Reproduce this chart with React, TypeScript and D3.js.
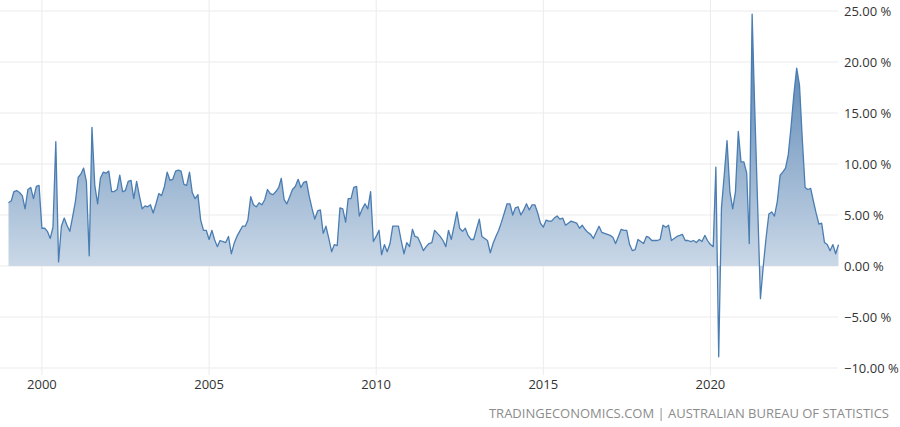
import React from 'react';
import * as d3 from 'd3';

// monthly values, % (Jan 1999 onwards)
const values1999to2003 = [
  6.2, 6.4, 7.3, 7.4, 7.2, 6.9, 5.6, 7.5, 7.7, 6.6, 7.8, 7.9,
  3.7, 3.7, 3.4, 2.7, 3.8, 12.2, 0.4, 3.9, 4.7, 4.0, 3.4, 4.8,
  6.3, 8.7, 9.0, 9.6, 8.3, 1.0, 13.6, 7.9, 6.1, 8.6, 9.2, 9.1,
  9.3, 7.3, 7.3, 7.5, 8.9, 7.3, 7.4, 8.3, 8.4, 6.6, 8.3, 6.9,
  5.6, 5.9, 5.8, 6.0, 5.2, 6.1, 7.1, 6.9, 7.8, 9.2, 8.4, 8.5,
];
const values2004to2008 = [
  9.3, 9.4, 9.3, 8.0, 7.9, 9.2, 7.2, 6.6, 7.0, 4.5, 3.5, 3.5,
  2.6, 3.5, 2.6, 1.9, 2.5, 2.4, 2.3, 2.9, 1.2, 2.2, 2.9, 3.4,
  3.9, 3.9, 4.5, 6.8, 6.0, 5.8, 6.2, 6.0, 6.5, 7.5, 7.1, 7.0,
  7.3, 7.7, 8.6, 6.5, 6.1, 6.8, 7.5, 7.8, 8.5, 7.7, 8.2, 8.3,
  6.8, 5.6, 4.6, 5.4, 5.5, 3.2, 3.9, 2.7, 1.4, 2.1, 2.0, 5.7,
];
const values2009to2013 = [
  5.6, 4.3, 6.6, 6.6, 7.7, 7.8, 4.9, 5.6, 6.1, 5.6, 7.3, 2.4,
  2.9, 3.5, 1.1, 2.1, 1.4, 2.2, 3.9, 3.9, 3.9, 2.5, 1.2, 2.3,
  1.9, 3.6, 2.9, 2.8, 2.2, 1.5, 1.9, 2.2, 2.3, 3.5, 3.2, 2.9,
  2.5, 1.9, 3.5, 2.6, 3.9, 5.3, 3.7, 3.4, 3.7, 3.0, 2.6, 2.6,
  3.6, 4.6, 2.9, 2.7, 2.5, 1.3, 2.2, 2.9, 3.5, 4.3, 5.2, 6.1,
];
const values2014to2018 = [
  6.1, 5.0, 5.7, 5.8, 5.0, 5.5, 6.1, 5.5, 6.0, 6.0, 5.2, 4.2,
  3.8, 4.5, 4.4, 4.4, 4.7, 4.9, 4.6, 4.7, 4.0, 4.2, 4.4, 4.3,
  4.2, 3.7, 4.0, 3.6, 3.3, 3.1, 2.7, 3.3, 3.9, 3.3, 3.2, 3.1,
  3.0, 2.8, 2.2, 2.9, 3.6, 3.5, 3.5, 2.1, 1.5, 1.6, 2.6, 2.4,
  2.2, 2.9, 2.8, 2.5, 2.5, 2.5, 2.6, 4.0, 3.8, 4.0, 2.5, 2.7,
];
const values2019to2023 = [
  2.9, 3.0, 3.1, 2.5, 2.5, 2.4, 2.5, 2.3, 2.6, 2.4, 3.0, 2.5,
  2.1, 1.9, 9.7, -8.9, 5.7, 9.0, 12.3, 7.3, 5.6, 7.3, 13.2, 10.2,
  10.2, 9.1, 2.2, 24.7, 15.0, 5.8, -3.2, 0.0, 2.8, 5.1, 5.3, 4.9,
  6.3, 8.9, 9.2, 9.6, 10.9, 13.7, 16.8, 19.4, 17.7, 12.5, 7.7, 7.5,
  7.6, 6.3, 5.2, 4.1, 4.2, 2.3, 2.1, 1.5, 2.1, 1.2, 2.1,
];

const yTicks = [-10, -5, 0, 5, 10, 15, 20, 25];
const xTickYears = [2000, 2005, 2010, 2015, 2020];
const sourceText = 'TRADINGECONOMICS.COM | AUSTRALIAN BUREAU OF STATISTICS';

const allValues = [
  ...values1999to2003,
  ...values2004to2008,
  ...values2009to2013,
  ...values2014to2018,
  ...values2019to2023,
];
const data = allValues.map((v, i) => ({
  date: d3.timeMonth.offset(new Date(1999, 0, 1), i),
  value: v,
}));

const width = 900;
const height = 427;
const font = '"Open Sans", "DejaVu Sans", sans-serif';

export default function App() {
  const x = d3
    .scaleTime()
    .domain([data[0].date, data[data.length - 1].date])
    .range([8.5, 838.5]);
  const y = d3.scaleLinear().domain([-10, 25]).range([368, 11]);

  const area = d3
    .area<{ date: Date; value: number }>()
    .x((d) => x(d.date))
    .y0(y(0))
    .y1((d) => y(d.value));
  const line = d3
    .line<{ date: Date; value: number }>()
    .x((d) => x(d.date))
    .y((d) => y(d.value));

  return (
    <svg
      width={width}
      height={height}
      style={{ position: 'absolute', left: 0, top: 0, background: '#fff' }}
    >
      <defs>
        <linearGradient id="fillGrad" gradientUnits="userSpaceOnUse" x1={0} x2={0} y1={y(25)} y2={y(-10)}>
          <stop offset="0%" stopColor="#4677ab" />
          <stop offset="100%" stopColor="#ffffff" />
        </linearGradient>
      </defs>

      {/* grid */}
      {yTicks.map((t) => (
        <line key={'h' + t} x1={0} x2={838} y1={y(t)} y2={y(t)} stroke="#ebebeb" strokeWidth={1} />
      ))}
      {xTickYears.map((yr) => (
        <line
          key={'v' + yr}
          x1={x(new Date(yr, 0, 1))}
          x2={x(new Date(yr, 0, 1))}
          y1={0}
          y2={375}
          stroke="#ebebeb"
          strokeWidth={1}
        />
      ))}

      <path d={area(data) ?? ''} fill="url(#fillGrad)" />
      <path d={line(data) ?? ''} fill="none" stroke="#4a7db2" strokeWidth={1.3} strokeLinejoin="round" />

      {/* y labels */}
      {yTicks.map((t) => (
        <text
          key={'yl' + t}
          x={844}
          y={y(t)}
          dy="0.35em"
          fontFamily={font}
          fontSize={13}
          fill="#333"
        >
          {d3.format('.2f')(t) + ' %'}
        </text>
      ))}

      {/* x labels */}
      {xTickYears.map((yr) => (
        <text
          key={'xl' + yr}
          x={x(new Date(yr, 0, 1))}
          y={384}
          dy="0.35em"
          textAnchor="middle"
          fontFamily={font}
          fontSize={13}
          fill="#333"
        >
          {yr}
        </text>
      ))}

      <text x={889} y={413} dy="0.35em" textAnchor="end" fontFamily={font} fontSize={13} fill="#8c8c8c">
        {sourceText}
      </text>
    </svg>
  );
}
